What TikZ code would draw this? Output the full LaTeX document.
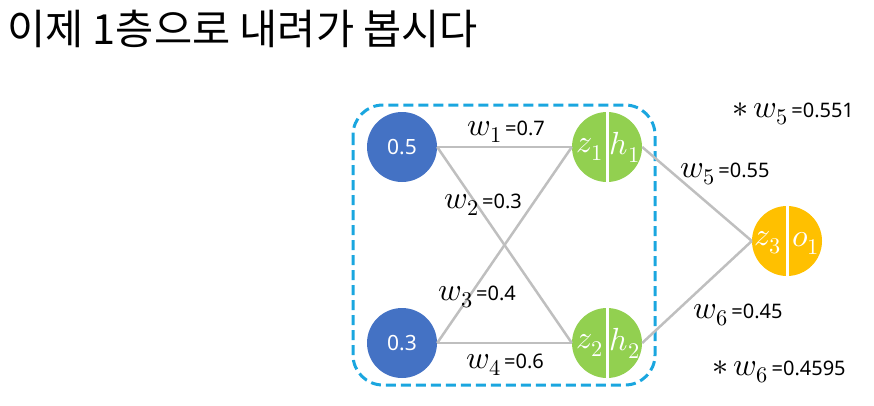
\documentclass[tikz,border=0pt]{standalone}
\usepackage{fontspec}
\usepackage{unicode-math}
\setmainfont{Noto Sans}
\setmathfont{Latin Modern Math}
\newfontfamily\krfont{Noto Sans CJK KR}
\definecolor{inpblue}{HTML}{4472C4}
\definecolor{hidgreen}{HTML}{92D050}
\definecolor{outorange}{HTML}{FFC000}
\definecolor{boxcyan}{HTML}{1AA6DF}
\definecolor{edgegray}{HTML}{BFBFBF}
\newcommand\wv[1]{{\fontsize{32}{32}\selectfont$w_{#1}$}}
\newcommand\swv[1]{{\fontsize{32}{32}\selectfont$\ast\,w_{#1}$}}
\tikzset{
  inp/.style={circle, fill=inpblue, minimum size=70pt, inner sep=0pt, text=white, font=\fontsize{21}{21}\selectfont},
  neuron/.style={circle, minimum size=70pt, inner sep=0pt},
  intext/.style={text=white, inner sep=0pt, font=\fontsize{32}{32}\selectfont},
  edgeline/.style={draw=edgegray, line width=2.5pt},
  divider/.style={draw=white, line width=3pt},
  lbl/.style={anchor=base, inner sep=0pt, font=\fontsize{20}{20}\selectfont},
}
\begin{document}
\begin{tikzpicture}[x=1pt,y=-1pt]
\useasboundingbox (0,0) rectangle (874,405);
\node[anchor=base west, inner sep=0pt, font=\krfont\fontsize{41.5}{41.5}\selectfont] (title) at (7,44) {이제 1층으로 내려가 봅시다};

\draw[draw=boxcyan, line width=3pt, dash pattern=on 10pt off 5pt, rounded corners=30pt] (353,105) rectangle (655,385);

\node[inp] (i1) at (402,147) {0.5};
\node[inp] (i2) at (402,343) {0.3};
\node[neuron, fill=hidgreen] (h1) at (607,147) {};
\node[neuron, fill=hidgreen] (h2) at (607,343) {};
\node[neuron, fill=outorange] (o) at (787,241) {};

\draw[edgeline] (i1.east) -- (h1.west);
\draw[edgeline] (i1.east) -- (h2.west);
\draw[edgeline] (i2.east) -- (h1.west);
\draw[edgeline] (i2.east) -- (h2.west);
\draw[edgeline] (h1.east) -- (o.west);
\draw[edgeline] (h2.east) -- (o.west);

\draw[divider] (h1.north) -- (h1.south);
\draw[divider] (h2.north) -- (h2.south);
\draw[divider] (o.north) -- (o.south);

\node[intext] (z1) at ([xshift=-17pt,yshift=-2pt]h1.center) {$z_1$};
\node[intext] (a1) at ([xshift=18pt]h1.center) {$h_1$};
\node[intext] (z2) at ([xshift=-17pt,yshift=-2pt]h2.center) {$z_2$};
\node[intext] (a2) at ([xshift=18pt]h2.center) {$h_2$};
\node[intext] (z3) at ([xshift=-19pt,yshift=-2pt]o.center) {$z_3$};
\node[intext] (o1) at ([xshift=19pt,yshift=-2pt]o.center) {$o_1$};

\node[lbl] (l1) at (506,135) {\wv{1}\,=0.7};
\node[lbl] (l2) at (483,208) {\wv{2}\,=0.3};
\node[lbl] (l3) at (477,300) {\wv{3}\,=0.4};
\node[lbl] (l4) at (505,368) {\wv{4}\,=0.6};
\node[lbl] (l5) at (725,177) {\wv{5}\,=0.55};
\node[lbl] (l6) at (738,318) {\wv{6}\,=0.45};
\node[lbl] (s5) at (793,117) {\swv{5}\,=0.551};
\node[lbl] (s6) at (779,375) {\swv{6}\,=0.4595};
\end{tikzpicture}
\end{document}
